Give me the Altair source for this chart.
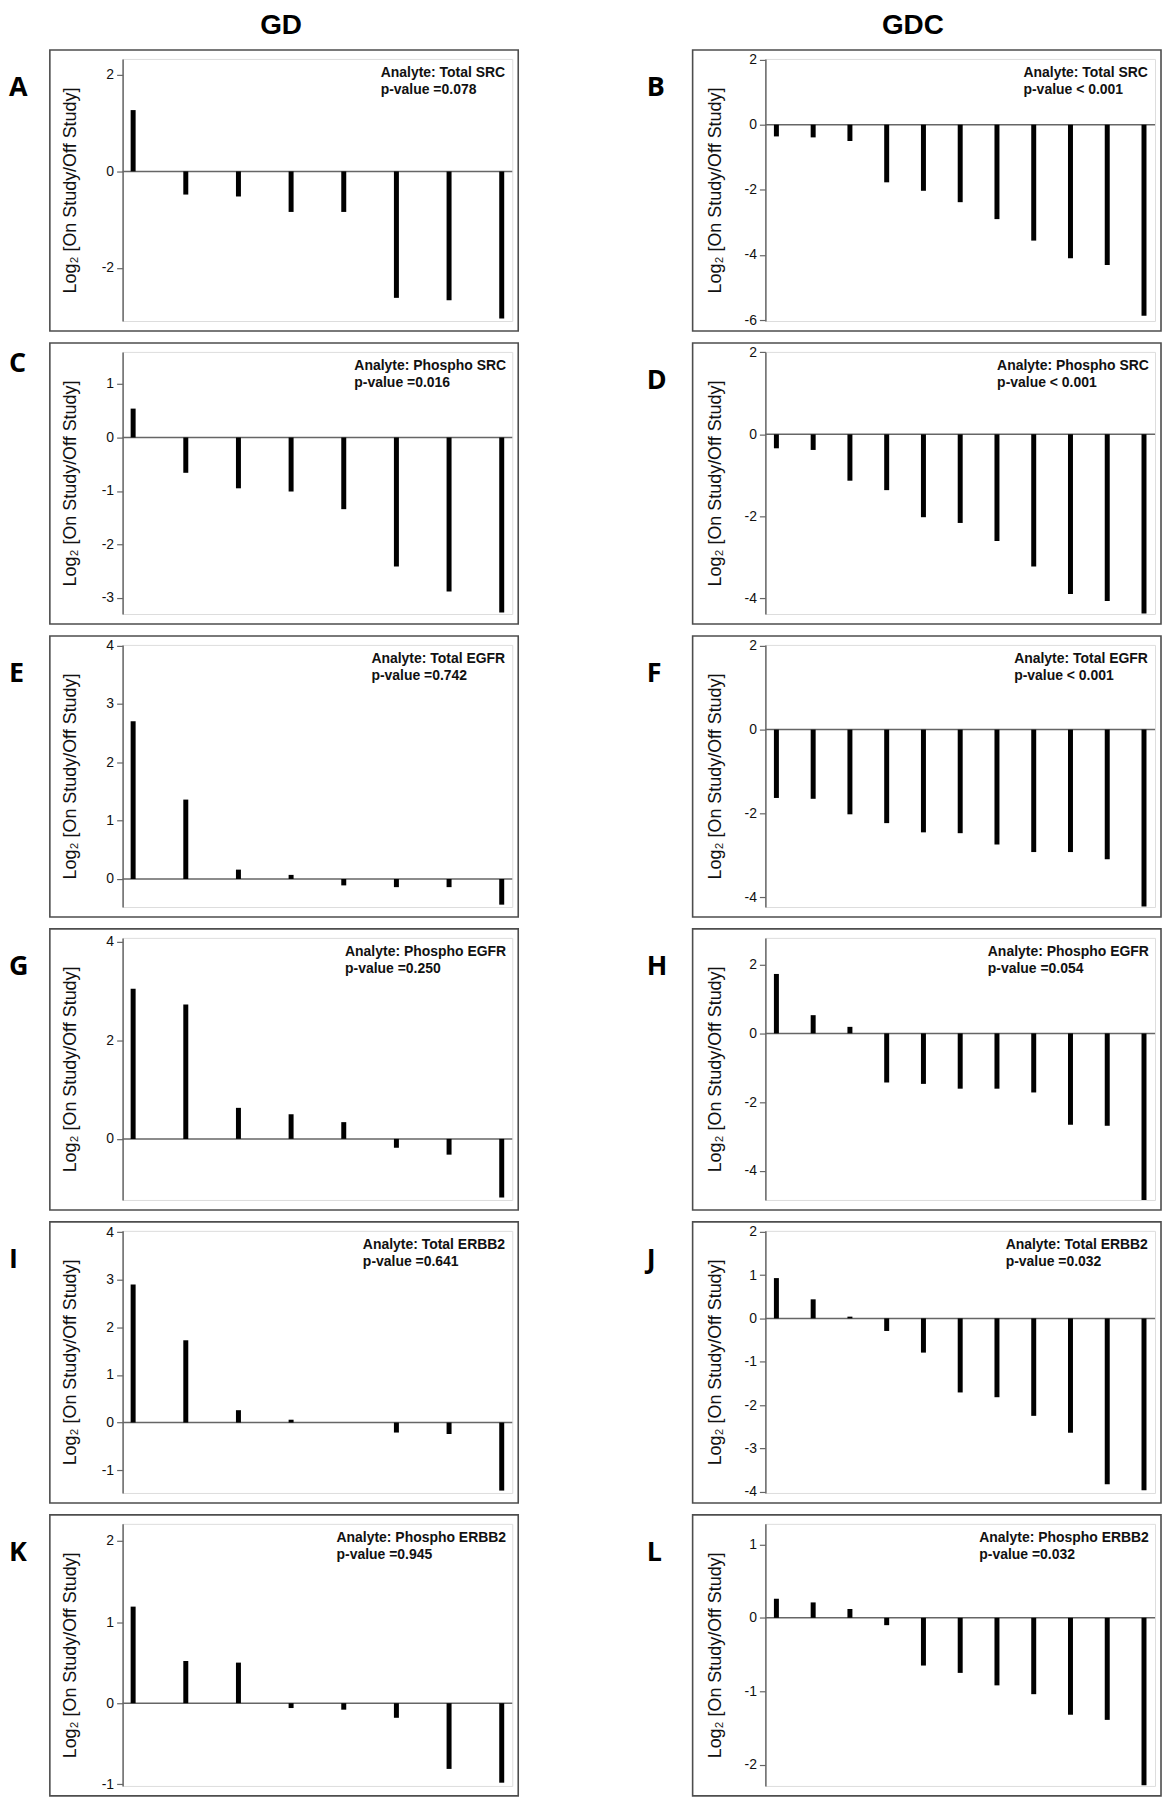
import altair as alt
import pandas as pd

# ---------------- data ----------------
letters = ["A", "B", "C", "D", "E", "F", "G", "H", "I", "J", "K", "L"]
analytes = ["Total SRC", "Total SRC", "Phospho SRC", "Phospho SRC",
            "Total EGFR", "Total EGFR", "Phospho EGFR", "Phospho EGFR",
            "Total ERBB2", "Total ERBB2", "Phospho ERBB2", "Phospho ERBB2"]
pvalues = ["=0.078", "< 0.001", "=0.016", "< 0.001", "=0.742", "< 0.001",
           "=0.250", "=0.054", "=0.641", "=0.032", "=0.945", "=0.032"]
column_titles = ["GD", "GDC"]

values_A = [1.27, -0.48, -0.52, -0.84, -0.84, -2.62, -2.67, -3.05]
values_B = [-0.36, -0.39, -0.50, -1.77, -2.03, -2.38, -2.90, -3.56, -4.10, -4.31, -5.87]
values_C = [0.54, -0.66, -0.95, -1.01, -1.34, -2.41, -2.88, -3.27]
values_D = [-0.34, -0.38, -1.13, -1.36, -2.02, -2.16, -2.60, -3.22, -3.89, -4.06, -4.37]
values_E = [2.70, 1.36, 0.16, 0.07, -0.11, -0.14, -0.14, -0.44]
values_F = [-1.63, -1.65, -2.02, -2.23, -2.45, -2.47, -2.74, -2.92, -2.92, -3.09, -4.22]
values_G = [3.05, 2.73, 0.63, 0.50, 0.34, -0.18, -0.32, -1.19]
values_H = [1.73, 0.53, 0.19, -1.43, -1.47, -1.61, -1.61, -1.72, -2.66, -2.69, -4.85]
values_I = [2.90, 1.73, 0.26, 0.06, 0.00, -0.21, -0.24, -1.43]
values_J = [0.93, 0.44, 0.04, -0.29, -0.79, -1.71, -1.82, -2.25, -2.64, -3.83, -3.97]
values_K = [1.19, 0.52, 0.50, -0.06, -0.08, -0.18, -0.81, -0.98]
values_L = [0.26, 0.21, 0.12, -0.10, -0.65, -0.75, -0.92, -1.04, -1.32, -1.39, -2.28]
all_values = [values_A, values_B, values_C, values_D, values_E, values_F,
              values_G, values_H, values_I, values_J, values_K, values_L]

y_domains = [[-3.10, 2.33], [-6.03, 2.02], [-3.30, 1.60], [-4.38, 2.01],
             [-0.48, 4.01], [-4.23, 2.02], [-1.24, 4.08], [-4.85, 2.78],
             [-1.48, 4.03], [-4.03, 2.02], [-1.02, 2.21], [-2.29, 1.28]]
y_ticks = [[-2, 0, 2], [-6, -4, -2, 0, 2], [-3, -2, -1, 0, 1], [-4, -2, 0, 2],
           [0, 1, 2, 3, 4], [-4, -2, 0, 2], [0, 2, 4], [-4, -2, 0, 2],
           [-1, 0, 1, 2, 3, 4], [-4, -3, -2, -1, 0, 1, 2], [-1, 0, 1, 2], [-2, -1, 0, 1]]

# ---------------- layout / style ----------------
W = 391
H = 263
FONT = "Liberation Sans"
GRAY = "#666666"
YTITLE = "Log\u2082 [On Study/Off Study]"

# Arial-bold advance widths (per 1000 em) for annotation placement
BOLD_W = {" ": 278, ":": 333, "=": 584, "<": 584, "-": 333, ".": 278,
          "A": 722, "B": 722, "C": 722, "E": 667, "F": 611, "G": 778, "H": 722,
          "O": 778, "P": 667, "R": 722, "S": 667, "T": 611,
          "a": 556, "e": 556, "h": 611, "l": 278, "n": 611, "o": 611, "p": 611,
          "s": 556, "t": 333, "u": 611, "v": 556, "y": 556}


def text_width(s, size):
    return sum(BOLD_W.get(c, 556) for c in s) * size / 1000.0


def panel(i):
    letter = letters[i]
    values = all_values[i]
    n = len(values)
    col = i % 2
    df = pd.DataFrame({"patient": list(range(1, n + 1)), "log2": values})
    pad = 0.2 if n == 8 else 0.3
    xs = alt.Scale(domain=[1 - pad, n + pad], nice=False, zero=False)
    ys = alt.Scale(domain=y_domains[i], nice=False, zero=False)
    title_x = -52 if col == 0 else -50
    yaxis = alt.Axis(values=y_ticks[i], title=YTITLE, titleX=title_x, titleY=H / 2,
                     titleAngle=-90, titleAlign="center", titleBaseline="middle",
                     titleFontSize=18, titleFontWeight="normal", titleFont=FONT,
                     titleColor="#111111", labelFont=FONT, labelFontSize=14,
                     labelColor="#111111", labelExpr="'' + datum.value",
                     labelPadding=3, tickSize=6, tickColor=GRAY, tickWidth=1.2,
                     domainColor=GRAY, domainWidth=1.5, grid=False)

    one = pd.DataFrame({"k": [0]})

    box = alt.Chart(one).mark_rect(fill="white", fillOpacity=0, stroke="#4d4d4d",
                                   strokeWidth=1.6).encode(
        x=alt.value(-73), x2=alt.value(W + 6), y=alt.value(-9), y2=alt.value(H + 10))

    zero = alt.Chart(one).mark_rule(color=GRAY, strokeWidth=1.5).encode(
        y=alt.Y(datum=0, scale=ys, axis=yaxis))

    bars = alt.Chart(df).mark_rule(color="black", strokeWidth=5).encode(
        x=alt.X("patient:Q", scale=xs, axis=None),
        y=alt.Y("log2:Q", scale=ys, axis=yaxis),
        y2=alt.datum(0))

    line1 = "Analyte: " + analytes[i]
    line2 = "p-value " + pvalues[i]
    xl = W - 6 - text_width(line1, 14)
    note = alt.Chart(one).mark_text(text=line1 + "\n" + line2, lineBreak="\n",
                                    lineHeight=17, align="left", baseline="alphabetic",
                                    font=FONT, fontSize=14, fontWeight="bold",
                                    color="#111111").encode(
        x=alt.value(xl), y=alt.value(18))

    letter_y = 20 if letter == "C" else 37
    letter_x = -114 if col == 0 else -119
    lab = alt.Chart(one).mark_text(text=letter, align="left", baseline="alphabetic",
                                   font="Open Sans", fontSize=27, fontWeight="bold",
                                   color="black").encode(
        x=alt.value(letter_x), y=alt.value(letter_y))

    layers = [box, zero, bars, note, lab]
    if i < 2:
        cx = 159 if col == 0 else 148
        head = alt.Chart(one).mark_text(text=column_titles[col], align="center",
                                        baseline="alphabetic", font=FONT, fontSize=28,
                                        fontWeight="bold", color="black").encode(
            x=alt.value(cx), y=alt.value(-25))
        layers.append(head)
    return alt.layer(*layers).properties(width=W, height=H)


panels = [panel(i) for i in range(12)]

chart = alt.concat(*panels, columns=2, spacing={"row": 31, "column": 254},
                   bounds="flush").properties(padding=0).configure_view(
    stroke=GRAY, strokeWidth=1.5).configure(background="white")

chart.save("out.html", embed_options={"renderer": "svg", "actions": False})
